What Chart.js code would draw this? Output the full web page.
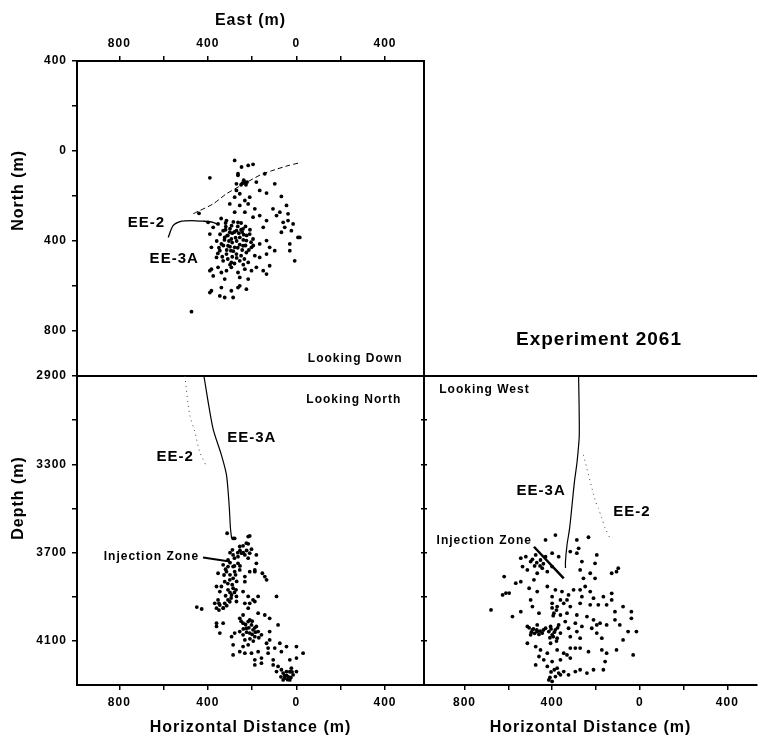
<!DOCTYPE html>
<html>
<head>
<meta charset="utf-8">
<script src="https://cdn.jsdelivr.net/npm/chart.js@4.4.1/dist/chart.umd.min.js"></script>
<style>
html, body { margin: 0; padding: 0; background: #fff; }
#wrap { position: relative; width: 759px; height: 739px; overflow: hidden; background: #fff; }
#wrap canvas { position: absolute; left: 0; top: 0; }
</style>
</head>
<body>
<div id="wrap">
  <canvas id="cTop" width="759" height="739"></canvas>
  <canvas id="cNorth" width="759" height="739"></canvas>
  <canvas id="cWest" width="759" height="739"></canvas>
</div>
<script>
// ---------------- tick values / labels ----------------
const eastTicks = [-800, -600, -400, -200, 0, 200, 400];
const eastTickLabels = ['800', '', '400', '', '0', '', '400'];
const northTicksTop = [400, 200, 0, -200, -400, -600, -800];
const northTickLabelsTop = ['400', '', '0', '', '400', '', '800'];
const depthTicks = [2900, 3100, 3300, 3500, 3700, 3900, 4100];
const depthTickLabels = ['2900', '', '3300', '', '3700', '', '4100'];
const northTicksSide = [-800, -600, -400, -200, 0, 200, 400];
const northTickLabelsSide = ['800', '', '400', '', '0', '', '400'];

// ---------------- events: looking down [east, north] ----------------
const topViewEvents = [
  [-279,-42],[-248,-71],[-218,-64],[-196,-59],[-264,-101],[-233,-138],[-244,-143],[-223,-138],[-271,-146],
  [-391,-119],[-98,-146],[-166,-175],[-135,-187],[-181,-138],[-271,-175],[-256,-190],[-279,-205],[-233,-220],
  [-218,-235],[-211,-205],[-301,-235],[-256,-242],[-279,-272],[-233,-272],[-188,-257],[-196,-294],[-166,-287],
  [-135,-309],[-150,-339],[-106,-257],[-90,-287],[-75,-272],[-45,-242],[-60,-317],[-38,-309],[-68,-361],
  [-53,-339],[-23,-354],[7,-384],[-30,-413],[-8,-488],[-316,-309],[-293,-332],[-264,-317],[-331,-354],
  [-301,-361],[-271,-354],[-241,-346],[-211,-369],[-324,-384],[-294,-391],[-256,-384],[-226,-398],[-196,-391],
  [-339,-413],[-309,-421],[-279,-428],[-241,-421],[-203,-428],[-166,-413],[-135,-398],[-121,-428],[-346,-443],
  [-316,-458],[-271,-458],[-226,-451],[-188,-465],[-361,-473],[-331,-488],[-294,-495],[-256,-488],[-218,-495],
  [-166,-473],[-135,-458],[-98,-443],[-384,-428],[-391,-369],[-376,-339],[-354,-324],[-399,-317],[-384,-525],
  [-354,-517],[-339,-540],[-316,-532],[-294,-517],[-264,-540],[-256,-562],[-233,-525],[-203,-532],[-181,-517],
  [-324,-569],[-376,-555],[-218,-569],[-150,-532],[-121,-510],[-384,-621],[-346,-644],[-324,-651],[-294,-621],
  [-264,-607],[-226,-614],[-339,-607],[-474,-714],[-264,-108],[-143,-101],[-68,-202],[-38,-279],[-15,-324],
  [15,-384],[-30,-443],[-135,-547],[-256,-599],[-286,-651],[-391,-629],[-391,-532],[-440,-277],
  [-313,-376],[-290,-407],[-238,-372],[-296,-443],[-256,-416],[-319,-336],[-280,-360],[-250,-350],[-305,-400],[-270,-400],
  [-340,-300],[-320,-320],[-300,-345],[-285,-315],[-265,-335],[-250,-320],[-230,-335],[-345,-370],[-325,-395],
  [-310,-375],[-290,-365],[-275,-385],[-260,-365],[-240,-395],[-225,-375],[-205,-405],[-350,-430],[-330,-420],
  [-315,-440],[-300,-425],[-285,-445],[-265,-430],[-245,-440],[-230,-420],[-215,-440],[-335,-470],[-310,-480],
  [-290,-470],[-270,-475],[-250,-465],[-235,-480],[-300,-505],[-280,-500],[-240,-505],[-320,-350],[-245,-360],
  [-210,-350],[-195,-420],[-360,-400],[-355,-455],[-238,-130],[-228,-150],[-250,-150]
];

// ---------------- events: looking north [east, depth] ----------------
const northViewEvents = [
  [-313,3612],[-279,3635],[-211,3624],[-289,3687],[-256,3672],[-241,3669],[-218,3660],[-203,3684],[-286,3710],
  [-264,3718],[-248,3702],[-233,3710],[-211,3702],[-218,3725],[-331,3755],[-309,3763],[-286,3763],[-264,3748],
  [-316,3786],[-279,3786],[-256,3778],[-354,3793],[-211,3786],[-188,3786],[-154,3793],[-181,3748],[-233,3808],
  [-233,3831],[-324,3831],[-339,3853],[-301,3823],[-286,3816],[-135,3823],[-309,3868],[-286,3861],[-293,3891],
  [-271,3898],[-309,3914],[-271,3921],[-241,3876],[-218,3898],[-196,3914],[-173,3898],[-211,3929],[-354,3914],
  [-346,3876],[-350,3929],[-90,3898],[-450,3946],[-428,3955],[-369,3929],[-346,3937],[-324,3929],[-301,3922],
  [-331,3951],[-361,3951],[-233,3929],[-218,3951],[-188,3921],[-173,3974],[-241,3982],[-256,3997],[-143,3982],
  [-121,3997],[-361,4019],[-361,4034],[-331,4019],[-346,4064],[-241,4019],[-218,4012],[-203,4027],[-181,4034],
  [-226,4042],[-196,4049],[-173,4057],[-211,4064],[-158,4072],[-256,4057],[-241,4072],[-188,4080],[-279,4064],
  [-121,4057],[-83,4027],[-121,4095],[-135,4110],[-293,4080],[-286,4117],[-241,4125],[-218,4117],[-256,4148],
  [-233,4155],[-203,4155],[-173,4148],[-286,4163],[-188,4185],[-158,4177],[-128,4132],[-128,4155],[-98,4132],
  [-75,4110],[-68,4148],[-45,4125],[0,4125],[30,4155],[0,4177],[-30,4185],[-105,4185],[-105,4208],[-83,4215],
  [-90,4238],[-68,4230],[-45,4238],[-38,4261],[-53,4268],[-30,4276],[-15,4253],[-23,4223],[0,4238],[-60,4276],
  [-188,4208],[-158,4200],[-286,3635],[-218,3627],[-226,3657],[-181,3710],[-188,3778],[-143,3808],[-361,3853],
  [-309,3733],[-327,3801],[-273,3868],[-211,4004],[-188,4040],[-233,4095],[-53,4257],[-30,4239],
  [-300,3700],[-280,3725],[-265,3700],[-300,3745],[-280,3760],[-320,3775],[-300,3800],[-275,3800],[-255,3760],
  [-310,3840],[-290,3845],[-270,3830],[-300,3880],[-280,3880],[-320,3895],[-295,3905],[-250,4010],[-230,4025],
  [-215,4040],[-200,4010],[-240,4045],[-225,4060],[-200,4070],[-185,4060],[-170,4085],[-210,4090],[-195,4100],
  [-60,4245],[-45,4255],[-25,4265],[-40,4275],[-20,4240],[-70,4262],[-330,3950],[-350,3960],[-315,3940],
  [-240,3700],[-225,3690],[-255,3690]
];

// ---------------- events: looking west [north, depth] ----------------
const westViewEvents = [
  [-385,3620],[-430,3642],[-287,3642],[-234,3630],[-520,3718],[-498,3740],[-475,3710],[-453,3733],[-430,3718],
  [-400,3702],[-370,3718],[-445,3770],[-422,3786],[-400,3763],[-468,3793],[-535,3763],[-513,3778],[-483,3823],
  [-543,3831],[-566,3838],[-619,3808],[-611,3883],[-596,3883],[-505,3861],[-468,3876],[-498,3914],[-422,3853],
  [-400,3899],[-385,3868],[-355,3876],[-325,3891],[-332,3914],[-362,3914],[-302,3868],[-272,3868],[-264,3899],
  [-226,3876],[-211,3906],[-287,3702],[-264,3740],[-272,3778],[-257,3816],[-226,3793],[-204,3748],[-196,3710],
  [-279,3680],[-317,3695],[-204,3816],[-249,3853],[-128,3793],[-106,3786],[-98,3770],[-166,3899],[-128,3914],
  [-679,3959],[-581,3989],[-543,3967],[-490,3944],[-460,3974],[-400,3929],[-377,3944],[-347,3929],[-317,3944],
  [-272,3929],[-226,3936],[-189,3936],[-151,3936],[-113,3967],[-76,3944],[-38,3967],[-113,4004],[-91,4027],
  [-392,3974],[-362,3982],[-332,3974],[-287,3982],[-241,3989],[-211,4004],[-181,4019],[-151,4027],[-513,4034],
  [-490,4049],[-468,4057],[-445,4064],[-498,4072],[-430,4042],[-468,4027],[-407,4034],[-385,4049],[-370,4027],
  [-400,4072],[-377,4087],[-407,4110],[-362,4064],[-415,4057],[-340,4012],[-325,4042],[-294,4019],[-287,4057],
  [-264,4034],[-317,4080],[-272,4087],[-219,4042],[-196,4064],[-173,4087],[-196,4027],[-76,4095],[-53,4057],
  [-15,4057],[-38,3997],[-513,4110],[-475,4125],[-453,4140],[-422,4155],[-377,4140],[-347,4155],[-317,4132],
  [-294,4132],[-272,4132],[-234,4148],[-332,4163],[-460,4170],[-438,4185],[-400,4193],[-362,4185],[-317,4177],
  [-173,4140],[-151,4155],[-158,4193],[-106,4140],[-30,4163],[-475,4208],[-422,4215],[-377,4223],[-347,4238],
  [-362,4253],[-385,4261],[-400,4283],[-415,4276],[-325,4253],[-294,4238],[-272,4230],[-241,4245],[-211,4230],
  [-166,4230],[-626,3891],[-543,3725],[-128,3884],
  [-505,4040],[-485,4045],[-470,4050],[-455,4055],[-495,4060],[-480,4065],[-460,4070],[-440,4050],[-405,4045],
  [-390,4060],[-375,4040],[-395,4080],[-380,4100],[-410,4085],[-490,3730],[-470,3745],[-455,3760],[-480,3760],
  [-440,3750],[-400,3950],[-380,3960],[-395,3985],[-405,4240],[-390,4230],[-370,4245],[-410,4265]
];

// ---------------- well trajectories ----------------
const wellEE2Top = [[-579,-384],[-557,-332],[-519,-312],[-474,-309],[-422,-312],[-377,-317],[-354,-327]];
const wellEE3ATop = [[7,-54],[-45,-67],[-106,-86],[-158,-104],[-233,-144],[-316,-190],[-376,-235],[-437,-265],[-467,-279]];
const wellEE3ANorth = [[-418,2900],[-377,3137],[-339,3257],[-316,3348],[-304,3484],[-298,3589],[-293,3633]];
const wellEE2North = [[-504,2900],[-482,3076],[-459,3152],[-437,3243],[-406,3310]];
const wellEE3AWest = [[-279,2900],[-276,3167],[-286,3288],[-298,3378],[-309,3484],[-320,3589],[-332,3665],[-339,3740],[-339,3769]];
const wellEE2West = [[-257,3257],[-204,3461],[-189,3499],[-173,3544],[-158,3589],[-136,3634]];

// ---------------- helpers ----------------
const FONT = "'Liberation Sans', Arial, Helvetica, sans-serif";

function linAxis(p) {
  const horiz = p.position === 'top' || p.position === 'bottom';
  return {
    type: 'linear', display: true, position: p.position,
    min: p.min, max: p.max, reverse: !!p.reverse, bounds: 'data',
    afterBuildTicks: s => { s.ticks = p.values.map(v => ({ value: v })); },
    afterFit: s => { if (horiz) s.height = p.size; else s.width = p.size; },
    grid: { drawOnChartArea: false, drawTicks: true, tickLength: p.tickLength || 5, color: '#000', lineWidth: 1.5 },
    border: { display: true, color: '#000', width: 2 },
    ticks: {
      display: !!p.labels, padding: 5, autoSkip: false, maxRotation: 0, minRotation: 0, color: '#000',
      font: { family: FONT, size: 12, weight: 'bold' },
      callback: v => { const i = p.values.indexOf(v); return (p.labels && i >= 0) ? p.labels[i] : ''; }
    },
    title: p.title
      ? { display: true, text: p.title, color: '#000', font: { family: FONT, size: 16, weight: 'bold' }, padding: p.titlePadding }
      : { display: false }
  };
}

function eventsDS(arr) {
  return {
    label: 'events', data: arr.map(([x, y]) => ({ x, y })), showLine: false,
    pointRadius: 1.9, pointHoverRadius: 1.9, pointBackgroundColor: '#000', pointBorderColor: '#000', pointBorderWidth: 0
  };
}

function wellDS(name, arr, o) {
  return {
    label: name, data: arr.map(([x, y]) => ({ x, y })), showLine: true, pointRadius: 0, pointHoverRadius: 0,
    borderColor: o.color || '#000', borderWidth: o.width || 1.2, borderDash: o.dash || [], tension: 0.25, fill: false
  };
}

function makeDecor(cfg) {
  return {
    id: 'decor',
    beforeDraw(chart) { chart.ctx.letterSpacing = '1px'; },
    afterDraw(chart) {
      const { ctx, chartArea: a, scales } = chart;
      const xs = scales.x, ys = scales.y;
      ctx.save();
      ctx.strokeStyle = '#000';
      ctx.lineWidth = 2;
      (cfg.frame || []).forEach(side => {
        ctx.beginPath();
        if (side === 'right') { ctx.moveTo(a.right, a.top - 1); ctx.lineTo(a.right, a.bottom + 1); }
        if (side === 'bottom') { ctx.moveTo(a.left - 1, a.bottom); ctx.lineTo(a.right + 1, a.bottom); }
        if (side === 'top') { ctx.moveTo(a.left - 1, a.top); ctx.lineTo(a.right, a.top); }
        ctx.stroke();
      });
      (cfg.pointers || []).forEach(p => {
        ctx.lineWidth = p.width;
        ctx.beginPath();
        ctx.moveTo(xs.getPixelForValue(p.x1), ys.getPixelForValue(p.y1));
        ctx.lineTo(xs.getPixelForValue(p.x2), ys.getPixelForValue(p.y2));
        ctx.stroke();
      });
      ctx.fillStyle = '#000';
      ctx.textAlign = 'center';
      ctx.textBaseline = 'middle';
      ctx.letterSpacing = '1px';
      (cfg.labels || []).forEach(l => {
        ctx.font = 'bold ' + l.size + 'px ' + FONT;
        ctx.fillText(l.text, xs.getPixelForValue(l.x), ys.getPixelForValue(l.y));
      });
      if (cfg.yTitle) {
        const t = cfg.yTitle;
        ctx.save();
        ctx.translate(a.left + t.dx, ys.getPixelForValue(t.y));
        ctx.rotate(-Math.PI / 2);
        ctx.font = 'bold 16px ' + FONT;
        ctx.fillText(t.text, 0, 0);
        ctx.restore();
      }
      ctx.restore();
    }
  };
}

Chart.defaults.font.family = FONT;
Chart.defaults.color = '#000';

const common = {
  responsive: false, animation: false, events: [],
  plugins: { legend: { display: false }, tooltip: { enabled: false } }
};

// ---------------- Looking Down ----------------
new Chart(document.getElementById('cTop'), {
  type: 'scatter',
  data: { datasets: [
    eventsDS(topViewEvents),
    wellDS('EE-2', wellEE2Top, { width: 1.3 }),
    wellDS('EE-3A', wellEE3ATop, { width: 1, dash: [5, 3] })
  ] },
  options: Object.assign({}, common, {
    layout: { padding: { left: 0, top: 0, right: 335, bottom: 363 } },
    scales: {
      x: linAxis({ position: 'top', min: -991, max: 576, values: eastTicks, labels: eastTickLabels, size: 61,
                   title: 'East (m)', titlePadding: { top: 11, bottom: 0 } }),
      y: linAxis({ position: 'left', min: -1000, max: 400, values: northTicksTop, labels: northTickLabelsTop, size: 77 })
    }
  }),
  plugins: [makeDecor({
    frame: ['right', 'bottom'],
    labels: [
      { text: 'EE-2', x: -678, y: -321, size: 15 },
      { text: 'EE-3A', x: -552, y: -481, size: 15 },
      { text: 'Looking Down', x: 265, y: -921, size: 12 }
    ],
    yTitle: { text: 'North (m)', y: -175, dx: -58 }
  })]
});

// ---------------- Looking North ----------------
new Chart(document.getElementById('cNorth'), {
  type: 'scatter',
  data: { datasets: [
    eventsDS(northViewEvents),
    wellDS('EE-3A', wellEE3ANorth, { width: 1.2 }),
    wellDS('EE-2', wellEE2North, { width: 1, dash: [1, 4], color: '#444' })
  ] },
  options: Object.assign({}, common, {
    layout: { padding: { left: 0, top: 376, right: 331, bottom: 0 } },
    scales: {
      x: linAxis({ position: 'bottom', min: -991, max: 576, values: eastTicks, labels: eastTickLabels, size: 54,
                   title: 'Horizontal Distance (m)', titlePadding: { top: 0, bottom: 2 } }),
      y: linAxis({ position: 'left', min: 2900, max: 4299, reverse: true, values: depthTicks, labels: depthTickLabels, size: 77 }),
      yR: linAxis({ position: 'right', min: 2900, max: 4299, reverse: true, values: depthTicks, size: 4, tickLength: 3 })
    }
  }),
  plugins: [makeDecor({
    labels: [
      { text: 'Looking North', x: 259, y: 3005, size: 12 },
      { text: 'EE-3A', x: -202, y: 3181, size: 15 },
      { text: 'EE-2', x: -548, y: 3267, size: 15 },
      { text: 'Injection Zone', x: -655, y: 3718, size: 12 }
    ],
    pointers: [{ x1: -422, y1: 3722, x2: -301, y2: 3740, width: 2 }],
    yTitle: { text: 'Depth (m)', y: 3452, dx: -58 }
  })]
});

// ---------------- Looking West ----------------
new Chart(document.getElementById('cWest'), {
  type: 'scatter',
  data: { datasets: [
    eventsDS(westViewEvents),
    wellDS('EE-3A', wellEE3AWest, { width: 1.2 }),
    wellDS('EE-2', wellEE2West, { width: 1, dash: [1, 4], color: '#444' })
  ] },
  options: Object.assign({}, common, {
    layout: { padding: { left: 420, top: 376, right: 0, bottom: 0 } },
    scales: {
      x: linAxis({ position: 'bottom', min: -985, max: 536, values: northTicksSide, labels: northTickLabelsSide, size: 54,
                   title: 'Horizontal Distance (m)', titlePadding: { top: 0, bottom: 2 } }),
      y: linAxis({ position: 'left', min: 2900, max: 4299, reverse: true, values: depthTicks, size: 4, tickLength: 3 })
    }
  }),
  plugins: [makeDecor({
    frame: ['top'],
    labels: [
      { text: 'Looking West', x: -709, y: 2963, size: 12 },
      { text: 'EE-3A', x: -450, y: 3420, size: 15 },
      { text: 'EE-2', x: -36, y: 3517, size: 15 },
      { text: 'Injection Zone', x: -710, y: 3645, size: 12 },
      { text: 'Experiment 2061', x: -186, y: 2737, size: 19 }
    ],
    pointers: [{ x1: -483, y1: 3673, x2: -347, y2: 3816, width: 2.5 }]
  })]
});
</script>
</body>
</html>
